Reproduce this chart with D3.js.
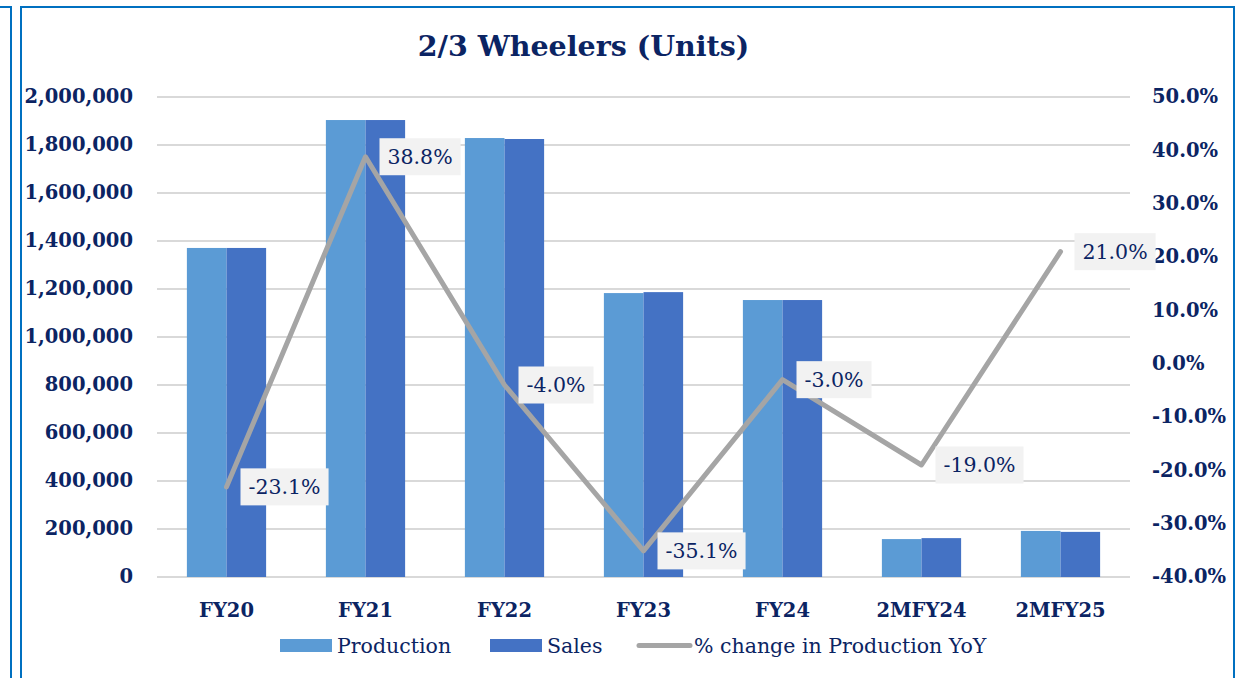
<!DOCTYPE html>
<html>
<head>
<meta charset="utf-8">
<script src="https://cdn.jsdelivr.net/npm/d3@7"></script>
<style>
  html, body { margin: 0; padding: 0; background: #fff; }
  svg { display: block; }
</style>
</head>
<body>
<svg id="chart" width="1256" height="678"></svg>
<script>
const categories = ["FY20", "FY21", "FY22", "FY23", "FY24", "2MFY24", "2MFY25"];
const production = [1371000, 1904000, 1829000, 1183000, 1154000, 158000, 192000];
const sales = [1371000, 1904000, 1825000, 1187000, 1154000, 162000, 188000];
const pctChange = [-23.1, 38.8, -4.0, -35.1, -3.0, -19.0, 21.0];
const leftTicks = [0, 200000, 400000, 600000, 800000, 1000000, 1200000, 1400000, 1600000, 1800000, 2000000];
const rightTicks = [-40, -30, -20, -10, 0, 10, 20, 30, 40, 50];
const seriesNames = ["Production", "Sales", "% change in Production YoY"];
const titleText = "2/3 Wheelers (Units)";

const navy = "#0B2463";
const cProd = "#5B9BD5", cSales = "#4472C4", cLine = "#A5A5A5";
const serif = "'DejaVu Serif', 'Liberation Serif', serif";

const svg = d3.select("#chart");
const plot = { left: 157, right: 1130, top: 97, bottom: 577 };

// frame
const frame = svg.append("g").attr("fill", "none").attr("stroke", "#0070C0").attr("stroke-width", 2);
frame.append("path").attr("d", "M0,7 H11 V678");
frame.append("path").attr("d", "M21,678 V7 H1234 V678");

const x = d3.scaleBand().domain(categories).range([plot.left, plot.right]).padding(0);
const yL = d3.scaleLinear().domain([0, 2000000]).range([plot.bottom, plot.top]);
const yR = d3.scaleLinear().domain([-40, 50]).range([plot.bottom, plot.top]);

// gridlines
svg.append("g").selectAll("line").data(leftTicks).join("line")
  .attr("x1", plot.left).attr("x2", plot.right)
  .attr("y1", d => yL(d)).attr("y2", d => yL(d))
  .attr("stroke", "#D9D9D9").attr("stroke-width", 2);

// left axis labels
const fmt = d3.format(",");
svg.append("g").selectAll("text").data(leftTicks).join("text")
  .attr("x", 133).attr("y", d => yL(d)).attr("dy", "0.33em")
  .attr("text-anchor", "end")
  .attr("font-family", serif).attr("font-weight", "bold").attr("font-size", 19.5)
  .attr("fill", navy).text(d => fmt(d));

// right axis labels
svg.append("g").selectAll("text").data(rightTicks).join("text")
  .attr("x", 1152).attr("y", d => yR(d)).attr("dy", "0.33em")
  .attr("text-anchor", "start")
  .attr("font-family", serif).attr("font-weight", "bold").attr("font-size", 19.5)
  .attr("fill", navy).text(d => d.toFixed(1) + "%");

// bars
const barW = x.bandwidth() * 0.57 / 2;
const bars = svg.append("g");
bars.selectAll("rect.p").data(categories).join("rect").attr("class", "p")
  .attr("x", d => x(d) + x.bandwidth() / 2 - barW)
  .attr("y", (d, i) => yL(production[i]))
  .attr("width", barW).attr("height", (d, i) => yL(0) - yL(production[i]))
  .attr("fill", cProd);
bars.selectAll("rect.s").data(categories).join("rect").attr("class", "s")
  .attr("x", d => x(d) + x.bandwidth() / 2)
  .attr("y", (d, i) => yL(sales[i]))
  .attr("width", barW).attr("height", (d, i) => yL(0) - yL(sales[i]))
  .attr("fill", cSales);

// category labels
svg.append("g").selectAll("text").data(categories).join("text")
  .attr("x", d => x(d) + x.bandwidth() / 2).attr("y", 617)
  .attr("text-anchor", "middle")
  .attr("font-family", serif).attr("font-weight", "bold").attr("font-size", 19.5)
  .attr("fill", navy).text(d => d);

// line
const pts = categories.map((c, i) => [x(c) + x.bandwidth() / 2, yR(pctChange[i])]);
svg.append("path").attr("d", d3.line()(pts))
  .attr("fill", "none").attr("stroke", cLine).attr("stroke-width", 5)
  .attr("stroke-linejoin", "round").attr("stroke-linecap", "round");

// data labels
const lg = svg.append("g");
pts.forEach((p, i) => {
  const g = lg.append("g");
  const rect = g.append("rect").attr("fill", "#F2F2F2");
  const t = g.append("text").attr("x", p[0] + 14 + 8).attr("y", p[1]).attr("dy", "0.36em")
    .attr("font-family", serif).attr("font-size", 20.5).attr("fill", navy)
    .text(pctChange[i].toFixed(1) + "%");
  const w = t.node().getComputedTextLength();
  rect.attr("x", p[0] + 14).attr("y", p[1] - 18.5).attr("width", w + 16).attr("height", 37);
});

// title
svg.append("text").attr("x", 583.5).attr("y", 56).attr("text-anchor", "middle")
  .attr("font-family", serif).attr("font-weight", "bold").attr("font-size", 28.5)
  .attr("fill", navy).text(titleText);

// legend
const leg = svg.append("g");
const legItems = [
  { name: seriesNames[0], x: 280, type: "rect", color: cProd },
  { name: seriesNames[1], x: 490, type: "rect", color: cSales },
  { name: seriesNames[2], x: 637, type: "line", color: cLine }
];
legItems.forEach(it => {
  if (it.type === "rect") {
    leg.append("rect").attr("x", it.x).attr("y", 639).attr("width", 52).attr("height", 13).attr("fill", it.color);
  } else {
    leg.append("line").attr("x1", it.x + 2).attr("x2", it.x + 53).attr("y1", 645.5).attr("y2", 645.5)
      .attr("stroke", it.color).attr("stroke-width", 5).attr("stroke-linecap", "round");
  }
  leg.append("text").attr("x", it.x + 57).attr("y", 645.5).attr("dy", "0.36em")
    .attr("font-family", serif).attr("font-size", 20.5).attr("fill", navy).text(it.name);
});
</script>
</body>
</html>
